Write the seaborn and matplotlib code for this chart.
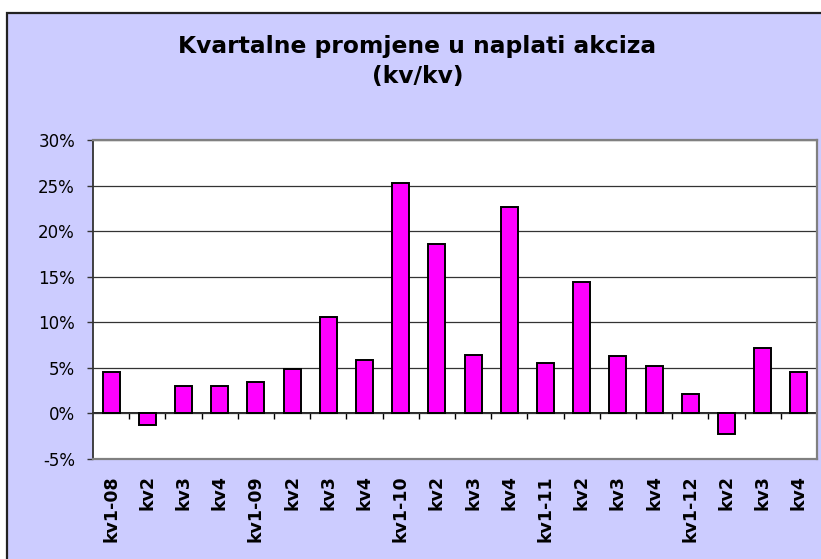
import numpy as np
import pandas as pd
import matplotlib
matplotlib.use("Agg")
import matplotlib.pyplot as plt
from matplotlib.patches import Rectangle
from matplotlib.ticker import FuncFormatter
import seaborn as sns

# ---- data ----
quarters = ["kv1-08", "kv2", "kv3", "kv4",
            "kv1-09", "kv2", "kv3", "kv4",
            "kv1-10", "kv2", "kv3", "kv4",
            "kv1-11", "kv2", "kv3", "kv4",
            "kv1-12", "kv2", "kv3", "kv4"]
change_pct = [4.5, -1.3, 3.0, 3.0,
              3.4, 4.9, 10.6, 5.9,
              25.3, 18.6, 6.4, 22.6,
              5.5, 14.4, 6.3, 5.2,
              2.1, -2.3, 7.2, 4.5]
y_ticks = [-5, 0, 5, 10, 15, 20, 25, 30]
title_line1 = "Kvartalne promjene u naplati akciza"
title_line2 = "(kv/kv)"

df = pd.DataFrame({"idx": np.arange(len(quarters)), "val": change_pct})

sns.set_theme(style="white")
plt.rcParams["font.family"] = ["DejaVu Sans"]

W, H = 821, 559
fig = plt.figure(figsize=(W / 100, H / 100), dpi=100, facecolor="white")

# lavender chart area with border
bg = Rectangle((7 / W, -0.05), 1.2, (H - 13) / H + 0.05, transform=fig.transFigure,
               facecolor="#CCCCFF", edgecolor="#222222", linewidth=1.6, zorder=-10)
fig.add_artist(bg)

ax = fig.add_axes([93 / W, 100 / H, 724 / W, 319 / H])
ax.set_zorder(5)
ax.set_facecolor("white")

sns.barplot(data=df, x="idx", y="val", color="#FF00FF", saturation=1,
            edgecolor="black", linewidth=1.4, width=0.47, ax=ax, zorder=3)

ax.set_xlim(-0.5, len(quarters) - 0.5)
ax.set_ylim(y_ticks[0], y_ticks[-1])
ax.set_yticks(y_ticks)
ax.yaxis.set_major_formatter(FuncFormatter(lambda v, p: f"{v:.0f}%"))
ax.yaxis.grid(True, color="#333333", linewidth=0.9)
ax.xaxis.grid(False)
ax.set_axisbelow(True)
ax.set_xlabel("")
ax.set_ylabel("")

ax.set_xticks(np.arange(len(quarters)))
ax.set_xticklabels(quarters, rotation=90, fontweight="bold", fontsize=12.5)
ax.tick_params(axis="x", length=0, pad=11.5, colors="black")
ax.tick_params(axis="y", length=4.5, width=1.0, color="#333333", pad=8.5,
               labelsize=12, labelcolor="black", left=True)

for side in ["top", "right", "bottom"]:
    ax.spines[side].set_color("#808080")
    ax.spines[side].set_linewidth(1.6)
ax.spines["left"].set_color("#333333")
ax.spines["left"].set_linewidth(1.3)

# zero axis line with category separator ticks
zero_frac = (0 - y_ticks[0]) / (y_ticks[-1] - y_ticks[0])
sec = ax.secondary_xaxis(zero_frac)
sec.set_xticks(np.arange(0.5, len(quarters) - 0.5, 1.0))
sec.tick_params(axis="x", direction="out", length=4.5, width=1.0, color="black",
                labelbottom=False, labeltop=False)
sec.spines["bottom"].set_color("black")
sec.spines["bottom"].set_linewidth(1.2)

fig.text(0.5085, 1 - 46 / H, title_line1, ha="center", va="center",
         fontsize=16.8, fontweight="bold", color="black")
fig.text(0.5085, 1 - 76 / H, title_line2, ha="center", va="center",
         fontsize=16.8, fontweight="bold", color="black")

fig.savefig("out.png", dpi=100, facecolor=fig.get_facecolor())
